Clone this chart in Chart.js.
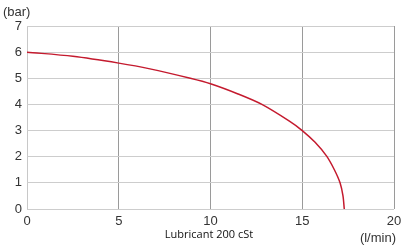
<!DOCTYPE html>
<html>
<head>
<meta charset="utf-8">
<script src="https://cdn.jsdelivr.net/npm/chart.js@4/dist/chart.umd.min.js"></script>
<style>
  html, body { margin: 0; padding: 0; background: #fff; }
  #box { width: 404px; height: 249px; }
</style>
</head>
<body>
<div id="box"><canvas id="grafico"></canvas></div>
<script>
// Curva de pressão x vazão
const vazao = [0, 2.5, 5, 6.7, 8.9, 10, 11.5, 12.8, 14.3, 15, 15.7, 16.33, 16.75, 17.06, 17.22, 17.29];
const pressao = [6, 5.84, 5.58, 5.36, 5.0, 4.79, 4.40, 4.0, 3.36, 3.0, 2.55, 2.02, 1.5, 1.0, 0.5, 0];
const ticksX = [0, 5, 10, 15, 20];
const ticksY = [0, 1, 2, 3, 4, 5, 6, 7];
const legenda = 'Lubricant 200 cSt';
const unidadeY = '(bar)';
const unidadeX = '(l/min)';

const pontos = vazao.map((x, i) => ({ x: x, y: pressao[i] }));

// textos extras (unidades e legenda)
const textos = {
  id: 'textos',
  afterDraw(chart) {
    const ctx = chart.ctx;
    ctx.save();
    ctx.fillStyle = '#333';
    ctx.font = '13px "Liberation Sans", Arial, sans-serif';
    ctx.textBaseline = 'middle';
    ctx.textAlign = 'left';
    ctx.fillText(unidadeY, 3, 12);
    ctx.textAlign = 'right';
    ctx.fillText(unidadeX, 396, 238);
    ctx.fillStyle = '#111';
    ctx.font = '11px "Open Sans", sans-serif';
    ctx.textAlign = 'center';
    ctx.fillText(legenda, 209, 235);
    ctx.restore();
  }
};

const ctx = document.getElementById('grafico').getContext('2d');
new Chart(ctx, {
  type: 'scatter',
  data: {
    datasets: [{
      data: pontos,
      showLine: true,
      borderColor: '#c41a2e',
      borderWidth: 1.5,
      pointRadius: 0,
      tension: 0.3,
      fill: false
    }]
  },
  options: {
    responsive: true,
    maintainAspectRatio: false,
    animation: false,
    layout: { padding: { top: 26, right: 10, left: 0, bottom: 0 } },
    plugins: { legend: { display: false }, tooltip: { enabled: false } },
    scales: {
      x: {
        type: 'linear', min: 0, max: 20,
        afterBuildTicks: s => { s.ticks = ticksX.map(v => ({ value: v })); },
        afterFit: s => { s.height = 40; s.paddingRight = 10; s.paddingLeft = 0; },
        grid: {
          color: ctx => ctx.tick && ctx.tick.value === 0 ? '#c8c8c8' : '#9a9a9a',
          lineWidth: 1, drawTicks: false
        },
        border: { display: false },
        ticks: {
          padding: 5, color: '#333',
          font: { family: '"Liberation Sans", Arial, sans-serif', size: 13 },
          maxRotation: 0
        }
      },
      y: {
        type: 'linear', min: 0, max: 7,
        afterBuildTicks: s => { s.ticks = ticksY.map(v => ({ value: v })); },
        afterFit: s => { s.width = 27; },
        grid: { color: '#cdcdcd', lineWidth: 1, drawTicks: false },
        border: { display: false },
        ticks: {
          padding: 5, color: '#333',
          font: { family: '"Liberation Sans", Arial, sans-serif', size: 13 }
        }
      }
    }
  },
  plugins: [textos]
});
</script>
</body>
</html>
